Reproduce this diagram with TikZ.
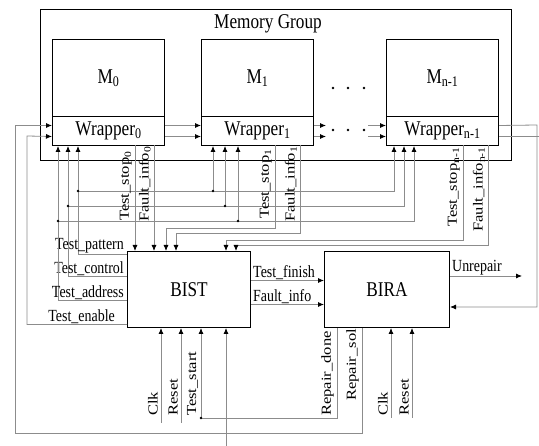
\documentclass[tikz,border=0pt]{standalone}
\usepackage{fontspec}
\setmainfont{Liberation Serif}
\newfontfamily\flatfont{Liberation Serif}[FakeStretch=0.82]
\newfontfamily\tallfont{Liberation Serif}[FakeStretch=1.2]
\usetikzlibrary{arrows.meta}

\tikzset{
    big/.style={font=\flatfont\fontsize{21}{21}\selectfont},
    blk/.style={big, draw, line width=1pt, anchor=north west, inner sep=0pt},
    lbl/.style={font=\flatfont\fontsize{17}{17}\selectfont, inner sep=1pt},
    vlbl/.style={font=\tallfont\fontsize{13.8}{13.8}\selectfont, inner sep=1pt, rotate=90, anchor=south west},
    wire/.style={draw=black!45, line width=0.8pt},
    sig/.style={wire, -{Latex[length=6pt, width=5pt, black]}},
    jdot/.style={circle, fill=black, inner sep=0pt, minimum size=2.6pt},
}

\begin{document}
\begin{tikzpicture}[x=1pt, y=-1pt]
        \useasboundingbox (0,0) rectangle (539,446);

        \node[blk, minimum width=471pt, minimum height=151pt] (grp) at (40,9) {};
        \node[big, anchor=north, inner sep=1pt] (grpname) at (268,13) {Memory Group};

        \foreach \i/\x/\s in {0/52/0, 1/201/1, 2/386/n-1} {
            \node[blk, minimum width=112pt, minimum height=77pt] (m\i) at (\x,39) {M\textsubscript{\s}};
            \node[blk, minimum width=112pt, minimum height=29pt] (w\i) at (\x,116) {Wrapper\textsubscript{\s}};
        }
        \foreach \x in {333,348,364} {
            \node[jdot] (mdot\x) at (\x,88) {};
            \node[jdot] (wdot\x) at (\x,130) {};
        }
        \foreach \s in {5.5,-5.5} {
            \draw[sig] ([yshift=\s pt]w0.east) -- ([yshift=\s pt]w1.west);
            \draw[sig] ([yshift=\s pt]w1.east) -- ++(12,0);
            \draw[sig] ([yshift=\s pt]w2.west) ++(-18,0) -- ([yshift=\s pt]w2.west);
        }

        \node[blk, minimum width=123pt, minimum height=76pt] (bist) at (127,251) {BIST};
        \node[blk, minimum width=125pt, minimum height=76pt] (bira) at (324,251) {BIRA};

        \foreach \nm/\y/\xa/\xb/\xc/\dy/\txt in {pat/191/78/213/394/35/Test\_pattern, ctl/206/68/225/404/13/Test\_control, adr/221/58/238/414/-11/Test\_address} {
            \coordinate (\nm0) at (\xa,\y);
            \coordinate (\nm1) at (\xb,\y);
            \coordinate (\nm2) at (\xc,\y);
            \draw[sig] (\nm0) -- (\nm0 |- w0.south);
            \draw[sig] (\nm1) -- (\nm1 |- w1.south);
            \draw[sig] (\nm0) -- (\nm2) -- (\nm2 |- w2.south);
            \draw[wire] ([yshift=\dy pt]bist.west) -| (\nm0);
            \node[jdot] (\nm dot0) at (\nm0) {};
            \node[jdot] (\nm dot1) at (\nm1) {};
            \node[lbl, anchor=south east] (\nm lbl) at ([xshift=-2pt, yshift=\dy pt]bist.west) {\txt};
        }

        \coordinate (enturn) at (27,136);
        \coordinate (solturn) at (15,433);
        \draw[sig] ([yshift=-35pt]bist.west) -| (enturn) -- ([yshift=-5.5pt]w0.west);
        \node[lbl, anchor=south east] (enlbl) at ([xshift=-11pt, yshift=-35pt]bist.west) {Test\_enable};
        \draw[sig] ([xshift=-24.5pt]bira.south) |- (solturn) |- ([yshift=5.5pt]w0.west);

        \coordinate (stop0) at (135,145);
        \coordinate (info0) at (154,145);
        \draw[sig] (stop0) -- (stop0 |- bist.north);
        \draw[sig] (info0) -- (info0 |- bist.north);
        \foreach \nm/\xa/\xb/\yb in {stop1/275/166/228, info1/300/176/233, stop2/463/226/240, info2/488/236/245} {
            \coordinate (\nm) at (\xa,145);
            \coordinate (\nm bend) at (\xb,\yb);
            \draw[sig] (\nm) |- (\nm bend) -- (\nm bend |- bist.north);
        }
        \foreach \nm/\x/\y/\txt in {stop0/133/222/Test\_stop\textsubscript{0}, info0/152/223/Fault\_info\textsubscript{0},
                stop1/273/220/Test\_stop\textsubscript{1}, info1/298/223/Fault\_info\textsubscript{1},
                stop2/461/228/Test\_stop\textsubscript{n-1}, info2/486/233/Fault\_info\textsubscript{n-1}}
            \node[vlbl] (\nm lbl) at (\x,\y) {\txt};

        \coordinate (bclk) at (161,423);
        \coordinate (brst) at (181,423);
        \coordinate (tstart) at (201,418);
        \coordinate (bext) at (226,446);
        \coordinate (rclk) at (391,418);
        \coordinate (rrst) at (412,418);
        \foreach \nm in {bclk, brst, tstart, bext}
            \draw[sig] (\nm) -- (\nm |- bist.south);
        \foreach \nm in {rclk, rrst}
            \draw[sig] (\nm) -- (\nm |- bira.south);
        \draw[wire] ([xshift=-49.5pt]bira.south) |- (tstart);
        \node[jdot] (tstartdot) at (tstart) {};
        \foreach \nm/\x/\y/\txt in {bclk/159/417/Clk, brst/179/417/Reset, tstart/199/417/Test\_start,
                rdone/335/417/Repair\_done, rsol/360/402/Repair\_sol, rclk/389/417/Clk, rrst/410/417/Reset}
            \node[vlbl] (\nm lbl) at (\x,\y) {\txt};

        \coordinate (fbturn) at (537,125);
        \draw[sig] ([yshift=5.5pt]w2.east) -- (fbturn) |- ([yshift=-17.5pt]bira.east);
        \draw[wire] ([yshift=-5.5pt]w2.east) -- ++(42,0);

        \draw[sig] ([yshift=9pt]bist.east) -- ([yshift=9pt]bira.west);
        \draw[sig] ([yshift=-15pt]bist.east) -- ([yshift=-15pt]bira.west);
        \node[lbl, anchor=south west] (finlbl) at ([xshift=1pt, yshift=9pt]bist.east) {Test\_finish};
        \node[lbl, anchor=south west] (faillbl) at ([xshift=1pt, yshift=-15pt]bist.east) {Fault\_info};
        \coordinate (unrep) at (522,276);
        \draw[sig] ([yshift=13.5pt]bira.east) -- (unrep);
        \node[lbl, anchor=south west] (unreplbl) at ([xshift=1pt, yshift=13.5pt]bira.east) {Unrepair};
\end{tikzpicture}
\end{document}
